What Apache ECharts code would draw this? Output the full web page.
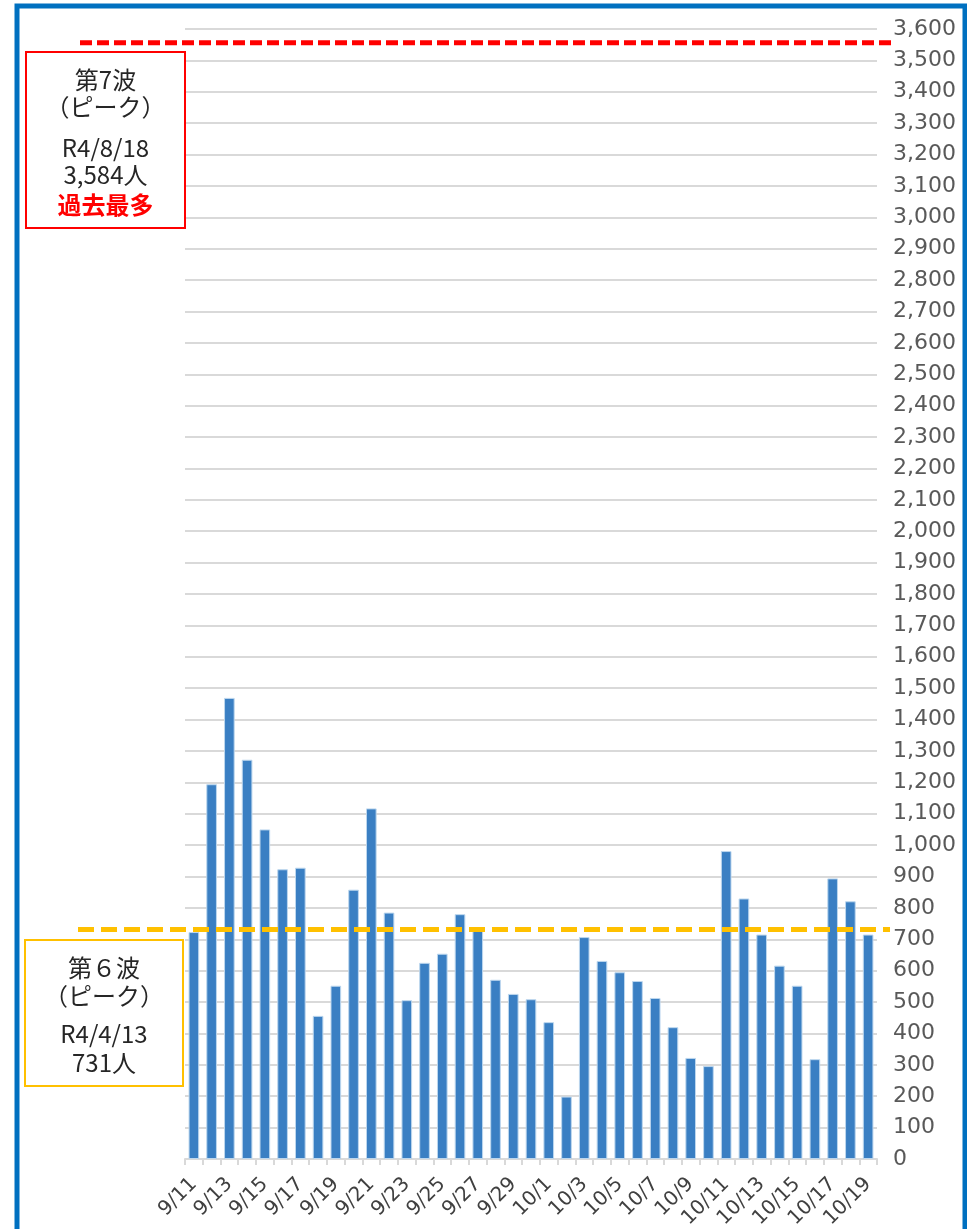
<!DOCTYPE html>
<html>
<head>
<meta charset="utf-8">
<script src="https://cdn.jsdelivr.net/npm/echarts@6/dist/echarts.min.js"></script>
<style>
  html, body { margin: 0; padding: 0; background: #fff; }
  #chart { width: 967px; height: 1229px; }
</style>
</head>
<body>
<div id="chart"></div>
<script>
// 日付（9/11〜10/19）
const dates = [
  '9/11', '9/12', '9/13', '9/14', '9/15', '9/16', '9/17', '9/18', '9/19', '9/20',
  '9/21', '9/22', '9/23', '9/24', '9/25', '9/26', '9/27', '9/28', '9/29', '9/30',
  '10/1', '10/2', '10/3', '10/4', '10/5', '10/6', '10/7', '10/8', '10/9', '10/10',
  '10/11', '10/12', '10/13', '10/14', '10/15', '10/16', '10/17', '10/18', '10/19'
];
// 新規陽性者数
const counts = [
  723, 1194, 1469, 1272, 1050, 923, 928, 456, 552, 858,
  1117, 785, 506, 625, 654, 780, 728, 571, 526, 509,
  436, 199, 707, 631, 595, 567, 513, 420, 322, 296,
  981, 830, 715, 616, 552, 318, 894, 821, 715
];
// 参考線（第7波・第6波ピーク）
const peak7Line = 3556;
const peak6Line = 731;
const peak7Text = ['第7波', '（ピーク）', 'R4/8/18', '3,584人', '過去最多'];
const peak6Text = ['第６波', '（ピーク）', 'R4/4/13', '731人'];

const chart = echarts.init(document.getElementById('chart'));

const option = {
  animation: false,
  backgroundColor: '#fff',
  grid: {
    left: 185,
    right: 90,
    top: 29,
    bottom: 70,
    containLabel: false,
    outerBoundsMode: 'none'
  },
  xAxis: {
    type: 'category',
    data: dates,
    axisLine: { lineStyle: { color: '#d9d9d9', width: 2 } },
    axisTick: { show: true, interval: 0, length: 6, lineStyle: { color: '#d9d9d9', width: 2 } },
    axisLabel: {
      interval: 1,
      rotate: 45,
      margin: 22,
      color: '#404040',
      fontSize: 20,
      fontFamily: 'DejaVu Sans'
    }
  },
  yAxis: {
    type: 'value',
    position: 'right',
    min: 0,
    max: 3600,
    interval: 100,
    axisLine: { show: false },
    axisTick: { show: false },
    splitLine: { lineStyle: { color: '#d9d9d9', width: 2 } },
    axisLabel: {
      align: 'left',
      margin: 16,
      color: '#595959',
      fontSize: 22,
      fontFamily: 'DejaVu Sans',
      formatter: v => v.toLocaleString('en-US')
    }
  },
  series: [
    {
      type: 'bar',
      data: counts,
      barCategoryGap: '40%',
      itemStyle: {
        color: '#3a7fc3',
        borderColor: '#bdd7ee',
        borderWidth: 1
      }
    }
  ]
};

chart.setOption(option);

// ピーク線と注記（線の高さは軸から計算）
const y7 = chart.convertToPixel({ yAxisIndex: 0 }, peak7Line);
const y6 = chart.convertToPixel({ yAxisIndex: 0 }, peak6Line);

function noteBox(x, y, w, h, color, lines, lineY) {
  const els = [{
    type: 'rect',
    shape: { x: x, y: y, width: w, height: h },
    style: { fill: '#fff', stroke: color, lineWidth: 2 },
    z: 10
  }];
  lines.forEach((t, i) => {
    const isRed = t === '過去最多';
    els.push({
      type: 'text',
      x: x + w / 2,
      y: lineY[i],
      style: {
        text: t,
        fill: isRed ? '#ff0000' : '#262626',
        font: (isRed ? 'bold ' : '') + '24px "Noto Sans CJK JP", sans-serif',
        align: 'center',
        verticalAlign: 'middle'
      },
      z: 11
    });
  });
  return els;
}

chart.setOption({
  graphic: [
    {
      type: 'rect',
      shape: { x: 17, y: 6, width: 948, height: 1250 },
      style: { fill: 'none', stroke: '#0070c0', lineWidth: 5 },
      z: 20
    },
    {
      type: 'line',
      shape: { x1: 80, y1: y7, x2: 891, y2: y7 },
      style: { stroke: '#ff0000', lineWidth: 5, lineDash: [12, 5] },
      z: 12
    },
    {
      type: 'line',
      shape: { x1: 78, y1: y6, x2: 890, y2: y6 },
      style: { stroke: '#ffc000', lineWidth: 5, lineDash: [16, 7] },
      z: 12
    },
    ...noteBox(26, 52, 159, 176, '#ff0000', peak7Text, [80, 107, 148, 175, 205]),
    ...noteBox(25, 940, 158, 146, '#ffc000', peak6Text, [968, 996, 1034, 1063])
  ]
});
</script>
</body>
</html>
